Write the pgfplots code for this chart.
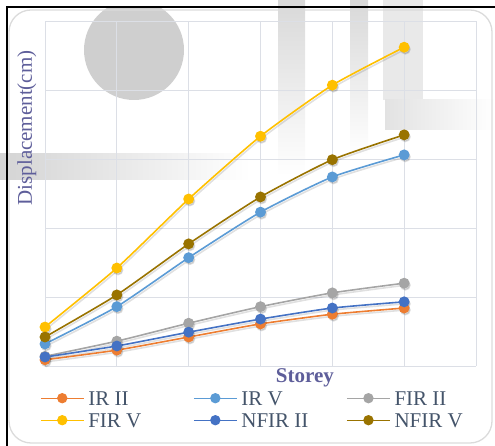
\documentclass[border=0pt]{standalone}
\usepackage{pgfplots}
\usepackage{pgfplotstable}
\pgfplotsset{compat=1.18}
\usepackage{fontspec}
\setmainfont{Liberation Serif}

\definecolor{cIRII}{HTML}{ED7D31}
\definecolor{cIRV}{HTML}{5B9BD5}
\definecolor{cFIRII}{HTML}{A5A5A5}
\definecolor{cFIRV}{HTML}{FFC000}
\definecolor{cNFIRII}{HTML}{4472C4}
\definecolor{cNFIRV}{HTML}{997300}
\definecolor{gridc}{HTML}{DCDFE6}
\definecolor{titlec}{HTML}{5E5E9A}
\definecolor{legc}{HTML}{44546A}
\definecolor{haze}{HTML}{CFCFCF}

% storey index, displacement (cm)
\pgfplotstableread{
s  IRII  IRV   FIRII FIRV  NFIRII NFIRV
0  0.09  0.32  0.14  0.565 0.13   0.42
1  0.23  0.86  0.36  1.42  0.29   1.03
2  0.42  1.57  0.62  2.42  0.49   1.77
3  0.61  2.23  0.86  3.33  0.68   2.45
4  0.75  2.74  1.06  4.07  0.84   2.99
5  0.84  3.06  1.20  4.62  0.93   3.35
}\disp

\begin{document}
\begin{tikzpicture}[x=1pt,y=1pt]
% faded shapes behind the chart
\begin{scope}
\clip (0,0) rectangle (495,438);
\fill[haze] (134,396) circle (50);
\end{scope}
\shade[top color=haze!80, bottom color=white] (278,446) rectangle (305,270);
\shade[top color=haze!80, bottom color=white] (350,446) rectangle (368,290);
\fill[haze!45] (383,446) rectangle (423,346);
\shade[left color=haze!90, right color=white] (0,266) rectangle (250,292);
\shade[left color=haze!60, right color=white] (385,346) rectangle (495,316);
% chart area frame
\draw[black!14, line width=1.3pt, rounded corners=22pt] (9,3) rectangle (492,436);
\draw[black, line width=2pt] (7,0) -- (7,439) -- (495,439);

\begin{axis}[
  at={(45pt,80pt)}, anchor=south west,
  scale only axis, width=431pt, height=345pt,
  xmin=0, xmax=6, ymin=0, ymax=5,
  xtick={0,...,6}, ytick={0,...,5},
  xticklabels={}, yticklabels={},
  major tick length=0pt,
  grid=major,
  major grid style={color=gridc, line width=0.9pt},
  axis line style={draw=none},
  ylabel={Displacement(cm)},
  ylabel style={at={(axis description cs:-0.042,0.69)}, anchor=center,
    font=\fontsize{21}{24}\selectfont, text=titlec},
  xlabel={\textbf{Storey}},
  xlabel style={at={(axis description cs:0.603,-0.035)}, anchor=center,
    font=\fontsize{21}{24}\selectfont, text=titlec},
  every axis plot/.append style={line width=1.6pt, smooth, tension=0.35,
    mark=*, mark size=4.6pt},
  shadow/.style={forget plot, draw=black, fill=none, opacity=0.12,
    mark options={draw=black, fill=black}, xshift=1.2pt, yshift=-2pt},
  legend image code/.code={\draw[line width=1.1pt, mark repeat=2, mark phase=2]
    plot coordinates {(0pt,0pt) (21.5pt,0pt) (43pt,0pt)};},
  legend columns=3,
  legend style={at={(axis description cs:-0.0116,-0.0667)}, anchor=north west,
    draw=none, fill=none, inner sep=0pt, font=\fontsize{21}{22}\selectfont, text=legc,
    nodes={inner sep=0pt, text height=16pt, text depth=2pt},
    cells={anchor=west}, row sep=4pt,
    /tikz/every odd column/.append style={column sep=4pt},
    /tikz/every even column/.append style={column sep=0pt}},
]
% soft drop shadows
\addplot[shadow] table[x=s, y=IRII] {\disp};
\addplot[shadow] table[x=s, y=IRV] {\disp};
\addplot[shadow] table[x=s, y=FIRII] {\disp};
\addplot[shadow] table[x=s, y=FIRV] {\disp};
\addplot[shadow] table[x=s, y=NFIRII] {\disp};
\addplot[shadow] table[x=s, y=NFIRV] {\disp};
% series
\addplot[color=cIRII] table[x=s, y=IRII] {\disp};
\addlegendentry{\makebox[105pt][l]{IR II}}
\addplot[color=cIRV] table[x=s, y=IRV] {\disp};
\addlegendentry{\makebox[105pt][l]{IR V}}
\addplot[color=cFIRII] table[x=s, y=FIRII] {\disp};
\addlegendentry{\makebox[105pt][l]{FIR II}}
\addplot[color=cFIRV] table[x=s, y=FIRV] {\disp};
\addlegendentry{\makebox[105pt][l]{FIR V}}
\addplot[color=cNFIRII] table[x=s, y=NFIRII] {\disp};
\addlegendentry{\makebox[105pt][l]{NFIR II}}
\addplot[color=cNFIRV] table[x=s, y=NFIRV] {\disp};
\addlegendentry{\makebox[105pt][l]{NFIR V}}
\end{axis}
\pgfresetboundingbox
\path[use as bounding box] (0,0) rectangle (495,446);
\end{tikzpicture}
\end{document}
